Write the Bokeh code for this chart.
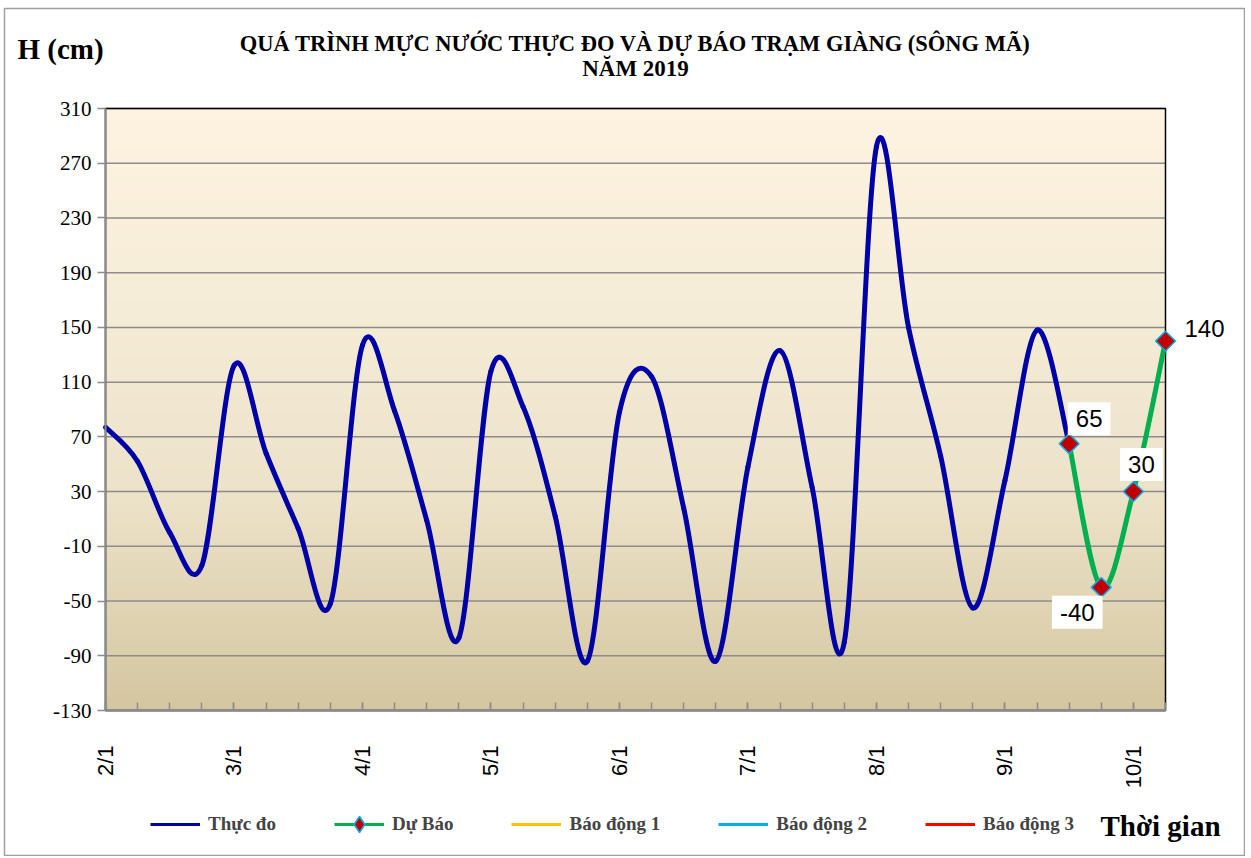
import numpy as np
from bokeh.plotting import figure
from bokeh.models import Range1d, FixedTicker, Label, Legend, LegendItem
from bokeh.embed import file_html
from bokeh.resources import INLINE

# ---------------- data ----------------
tick_labels = ["2/1", "3/1", "4/1", "5/1", "6/1", "7/1", "8/1", "9/1", "10/1"]
label_step = 4  # 6-hourly values, one label per day

observed = [77, 52, 0, -24, 122, 58, 3, -52, 137, 89, 9, -77, 118, 92, 12, -94,
            88, 114, 18, -94, 48, 133, 33, -80, 282, 150, 56, -55, 38, 148, 65]
forecast = [65, -40, 30, 140]

# alarm levels: no value shown on this chart (legend entries only)
alarm1 = [np.nan]
alarm2 = [np.nan]
alarm3 = [np.nan]

y_ticks = [-130, -90, -50, -10, 30, 70, 110, 150, 190, 230, 270, 310]

title_1 = "QUÁ TRÌNH MỰC NƯỚC THỰC ĐO VÀ DỰ BÁO TRẠM GIÀNG (SÔNG MÃ)"
title_2 = "NĂM 2019"
y_title = "H (cm)"
x_title = "Thời gian"
legend_labels = ["Thực đo", "Dự Báo", "Báo động 1", "Báo động 2", "Báo động 3"]

# ---------------- layout (pixels) ----------------
W, H = 1245, 856
PL, PT, PW, PH = 105, 108, 1060, 602   # plot area inside the canvas
BL, BT, BR, BB = 4, 8, 1244, 855        # outer chart border

# ---------------- derived ----------------
fc_start = len(observed) - 1
x_obs = list(range(len(observed)))
x_fc = list(range(fc_start, fc_start + len(forecast)))
x_min, x_max = 0, x_fc[-1]
y_min, y_max = y_ticks[0], y_ticks[-1]

ppx = PW / (x_max - x_min)
ppy = PH / (y_max - y_min)
x_lo = x_min - PL / ppx
x_hi = x_max + (W - PL - PW) / ppx
y_hi = y_max + PT / ppy
y_lo = y_min - (H - PT - PH) / ppy


def px_to_x(px):
    return x_lo + px / ppx


def py_to_y(py):
    return y_hi - py / ppy


def bezier_segments(xs, ys):
    xs = np.asarray(xs, float)
    ys = np.asarray(ys, float)
    px = np.concatenate([[xs[0]], xs, [xs[-1]]])
    py = np.concatenate([[ys[0]], ys, [ys[-1]]])
    n = len(xs)
    d = dict(x0=[], y0=[], x1=[], y1=[], cx0=[], cy0=[], cx1=[], cy1=[])
    for i in range(n - 1):
        d["x0"].append(px[i + 1]); d["y0"].append(py[i + 1])
        d["x1"].append(px[i + 2]); d["y1"].append(py[i + 2])
        d["cx0"].append(px[i + 1] + (px[i + 2] - px[i]) / 6)
        d["cy0"].append(py[i + 1] + (py[i + 2] - py[i]) / 6)
        d["cx1"].append(px[i + 2] - (px[i + 3] - px[i + 1]) / 6)
        d["cy1"].append(py[i + 2] - (py[i + 3] - py[i + 1]) / 6)
    return d


BLUE = "#0000A8"
GREEN = "#00B050"
GRID = "#8C8C8C"
SERIF = "Liberation Serif"
SANS = "Liberation Sans"

p = figure(width=W, height=H, title=None,
           x_range=Range1d(x_lo, x_hi), y_range=Range1d(y_lo, y_hi),
           output_backend="svg", toolbar_location=None,
           min_border_left=0, min_border_right=0,
           min_border_top=0, min_border_bottom=0)
p.background_fill_color = "white"
p.border_fill_color = "white"
p.outline_line_color = None
p.xgrid.visible = False
p.ygrid.visible = False

# outer chart border
p.quad(left=[px_to_x(BL)], right=[px_to_x(BR)], top=[py_to_y(BT)], bottom=[py_to_y(BB)],
       fill_alpha=0, line_color="#A0A0A0", line_width=1.5, level="image")

# vertical gradient background of the plot area
stops = [(0.0, (212, 198, 160)), (0.35, (236, 226, 200)), (0.7, (246, 237, 216)), (1.0, (253, 243, 224))]
rows = 220
img = np.zeros((rows, 1), dtype=np.uint32)
view = img.view(dtype=np.uint8).reshape((rows, 1, 4))
for r in range(rows):
    t = r / (rows - 1)
    for k in range(len(stops) - 1):
        if stops[k][0] <= t <= stops[k + 1][0]:
            f = (t - stops[k][0]) / (stops[k + 1][0] - stops[k][0])
            c = [int(round(stops[k][1][j] + f * (stops[k + 1][1][j] - stops[k][1][j]))) for j in range(3)]
            break
    view[r, 0, 0], view[r, 0, 1], view[r, 0, 2], view[r, 0, 3] = c[0], c[1], c[2], 255
p.image_rgba(image=[img], x=x_min, y=y_min, dw=x_max - x_min, dh=y_max - y_min, level="image")

# horizontal grid lines limited to the plot area
p.segment(x0=[x_min] * len(y_ticks), x1=[x_max] * len(y_ticks), y0=y_ticks, y1=y_ticks,
          line_color=GRID, line_width=1.5)
# plot-area border
p.quad(left=[x_min], right=[x_max], bottom=[y_min], top=[y_max],
       fill_alpha=0, line_color="black", line_width=1.5)

# y axis (fixed at the plot-area edge)
p.yaxis.fixed_location = x_min
p.yaxis.bounds = (y_min, y_max)
p.yaxis.ticker = FixedTicker(ticks=y_ticks)
p.yaxis.major_label_overrides = {v: str(v) for v in y_ticks}
p.yaxis.axis_line_color = GRID
p.yaxis.axis_line_width = 2
p.yaxis.major_tick_in = 0
p.yaxis.major_tick_out = 8
p.yaxis.major_tick_line_color = GRID
p.yaxis.major_tick_line_width = 1.5
p.yaxis.minor_tick_line_color = None
p.yaxis.major_label_text_font = SERIF
p.yaxis.major_label_text_font_size = "21px"
p.yaxis.major_label_text_color = "black"
p.yaxis.major_label_standoff = 6

# x axis (fixed at the plot-area edge)
major_x = [i * label_step for i in range(len(tick_labels))]
p.xaxis.fixed_location = y_min
p.xaxis.bounds = (x_min, x_max)
p.xaxis.ticker = FixedTicker(ticks=major_x, minor_ticks=list(range(x_min, x_max + 1)))
p.xaxis.major_label_overrides = {major_x[i]: tick_labels[i] for i in range(len(tick_labels))}
p.xaxis.axis_line_color = GRID
p.xaxis.axis_line_width = 2
p.xaxis.major_tick_in = 8
p.xaxis.major_tick_out = 0
p.xaxis.minor_tick_in = 8
p.xaxis.minor_tick_out = 0
p.xaxis.major_tick_line_color = GRID
p.xaxis.minor_tick_line_color = GRID
p.xaxis.major_tick_line_width = 1.5
p.xaxis.minor_tick_line_width = 1.5
p.xaxis.major_label_orientation = np.pi / 2
p.xaxis.major_label_text_font = SANS
p.xaxis.major_label_text_font_size = "22px"
p.xaxis.major_label_text_color = "black"
p.xaxis.major_label_standoff = 35

# series
seg_obs = bezier_segments(x_obs, observed)
p.bezier(x0=seg_obs["x0"], y0=seg_obs["y0"], x1=seg_obs["x1"], y1=seg_obs["y1"],
         cx0=seg_obs["cx0"], cy0=seg_obs["cy0"], cx1=seg_obs["cx1"], cy1=seg_obs["cy1"],
         line_color=BLUE, line_width=5, line_cap="round")
seg_fc = bezier_segments(x_fc, forecast)
p.bezier(x0=seg_fc["x0"], y0=seg_fc["y0"], x1=seg_fc["x1"], y1=seg_fc["y1"],
         cx0=seg_fc["cx0"], cy0=seg_fc["cy0"], cx1=seg_fc["cx1"], cy1=seg_fc["cy1"],
         line_color=GREEN, line_width=5, line_cap="round")
p.scatter(x=x_fc, y=forecast, marker="square", angle=np.pi / 4, size=14,
          fill_color="#C00000", line_color="#00B0F0", line_width=1.5)

# data labels on forecast points
offsets = [(20, 25), (-24, -25), (8, 27), (39, 13)]
for xi, yi, (dx, dy) in zip(x_fc, forecast, offsets):
    p.add_layout(Label(x=xi, y=yi, text=str(yi), x_offset=dx, y_offset=dy,
                       text_align="center", text_baseline="middle",
                       text_font=SANS, text_font_size="24px", text_color="black",
                       background_fill_color="white", padding=8))

# titles
x_mid = (x_min + x_max) / 2
p.add_layout(Label(x=x_mid, y=y_max, y_offset=65, text=title_1,
                   text_align="center", text_baseline="middle", text_font=SERIF,
                   text_font_style="bold", text_font_size="22.5px", text_color="black"))
p.add_layout(Label(x=x_mid, y=y_max, y_offset=40, text=title_2,
                   text_align="center", text_baseline="middle", text_font=SERIF,
                   text_font_style="bold", text_font_size="23px", text_color="black"))
p.add_layout(Label(x=x_min, y=y_max, x_offset=-45, y_offset=60, text=y_title,
                   text_align="center", text_baseline="middle", text_font=SERIF,
                   text_font_style="bold", text_font_size="29px", text_color="black"))
p.add_layout(Label(x=x_max, y=y_min, x_offset=-5, y_offset=-115, text=x_title,
                   text_align="center", text_baseline="middle", text_font=SERIF,
                   text_font_style="bold", text_font_size="29px", text_color="black"))

# legend (legend-only renderers, nothing drawn on the plot)
nan1 = [np.nan]
lg_obs = p.line(x=nan1, y=nan1, line_color=BLUE, line_width=3)
lg_fc = p.line(x=nan1, y=nan1, line_color=GREEN, line_width=3)
lg_fc_pt = p.scatter(x=nan1, y=nan1, marker="diamond", size=17,
                     fill_color="#C00000", line_color="#00B0F0", line_width=1.5)
lg_a1 = p.line(x=nan1, y=alarm1, line_color="#FFC000", line_width=3)
lg_a2 = p.line(x=nan1, y=alarm2, line_color="#00B0F0", line_width=3)
lg_a3 = p.line(x=nan1, y=alarm3, line_color="#FF0000", line_width=3)

legend = Legend(items=[
    LegendItem(label=legend_labels[0], renderers=[lg_obs]),
    LegendItem(label=legend_labels[1], renderers=[lg_fc, lg_fc_pt]),
    LegendItem(label=legend_labels[2], renderers=[lg_a1]),
    LegendItem(label=legend_labels[3], renderers=[lg_a2]),
    LegendItem(label=legend_labels[4], renderers=[lg_a3]),
], orientation="horizontal", location=(150, 12))
legend.label_text_font = SERIF
legend.label_text_font_style = "bold"
legend.label_text_font_size = "19px"
legend.glyph_width = 50
legend.glyph_height = 40
legend.label_standoff = 8
legend.spacing = 58
legend.padding = 0
legend.margin = 0
legend.border_line_alpha = 0
legend.background_fill_alpha = 0
p.add_layout(legend, "center")

open("out.html", "w").write(file_html(p, INLINE))
